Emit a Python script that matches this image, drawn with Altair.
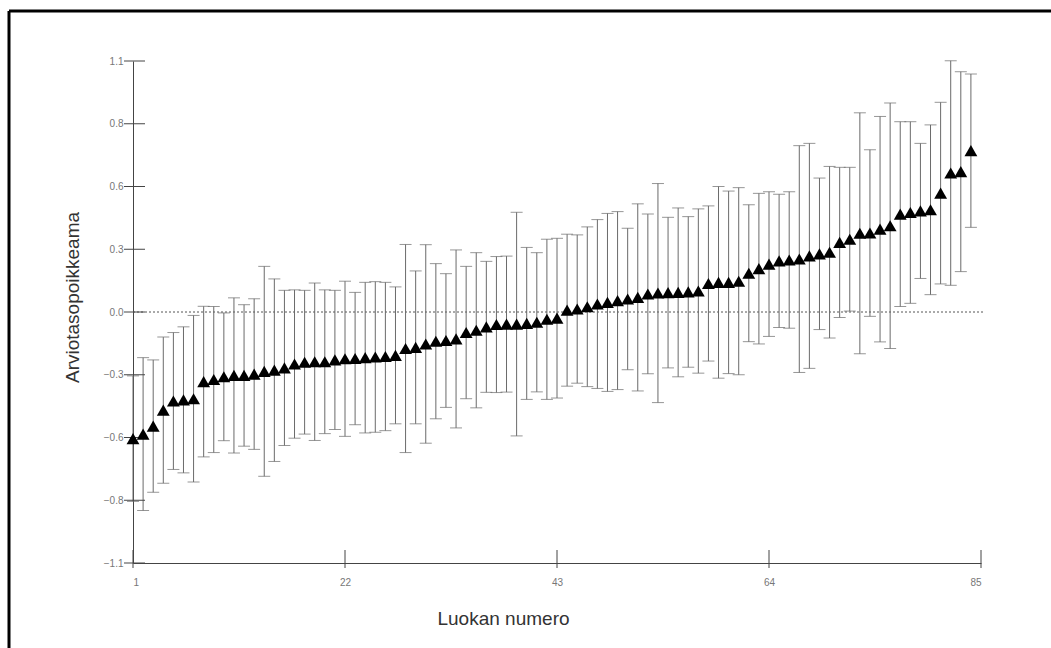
import altair as alt
import pandas as pd

# class numbers (1..84 drawn, axis runs to 85)
classes = list(range(1, 85))

# estimated class means (triangles)
means = [
    -0.555, -0.535, -0.500, -0.430, -0.390, -0.385, -0.380, -0.305, -0.296, -0.284,
    -0.278, -0.278, -0.272, -0.260, -0.255, -0.245, -0.228, -0.220, -0.218, -0.218,
    -0.210, -0.205, -0.204, -0.200, -0.197, -0.195, -0.190, -0.160, -0.155, -0.140,
    -0.128, -0.125, -0.118, -0.090, -0.080, -0.065, -0.055, -0.053, -0.053, -0.050,
    -0.045, -0.032, -0.027, 0.008, 0.013, 0.023, 0.035, 0.042, 0.050, 0.057,
    0.064, 0.079, 0.083, 0.085, 0.086, 0.088, 0.092, 0.125, 0.130, 0.130,
    0.135, 0.170, 0.190, 0.210, 0.224, 0.228, 0.232, 0.246, 0.255, 0.262,
    0.305, 0.319, 0.345, 0.346, 0.363, 0.378, 0.429, 0.436, 0.443, 0.448,
    0.521, 0.609, 0.615, 0.707,
]

# estimated half-widths of the error bars
errors = [
    0.275, 0.335, 0.290, 0.320, 0.300, 0.320, 0.365, 0.330, 0.320, 0.280,
    0.340, 0.310, 0.330, 0.460, 0.400, 0.340, 0.325, 0.315, 0.345, 0.315,
    0.305, 0.340, 0.290, 0.330, 0.330, 0.325, 0.300, 0.456, 0.335, 0.435,
    0.340, 0.293, 0.390, 0.290, 0.340, 0.287, 0.298, 0.298, 0.490, 0.333,
    0.305, 0.351, 0.350, 0.333, 0.325, 0.350, 0.370, 0.390, 0.390, 0.310,
    0.410, 0.350, 0.480, 0.330, 0.370, 0.330, 0.360, 0.340, 0.420, 0.400,
    0.410, 0.300, 0.330, 0.317, 0.292, 0.299, 0.497, 0.493, 0.332, 0.376,
    0.329, 0.315, 0.528, 0.365, 0.494, 0.538, 0.405, 0.398, 0.296, 0.372,
    0.398, 0.492, 0.438, 0.336,
]

y_ticks = [-1.1, -0.825, -0.55, -0.275, 0.0, 0.275, 0.55, 0.825, 1.1]
x_ticks = [1, 22, 43, 64, 85]

df = pd.DataFrame({"luokka": classes, "ka": means, "virhe": errors})
df["ala"] = df["ka"] - df["virhe"]
df["yla"] = df["ka"] + df["virhe"]

FONT = "Liberation Sans"
AXIS_COLOR = "#444444"

xscale = alt.Scale(domain=[1, 85], nice=False, zero=False)
yscale = alt.Scale(domain=[-1.1, 1.1], nice=False, zero=False)

xaxis = alt.Axis(
    values=x_ticks, title="Luokan numero", grid=False, ticks=False,
    labelPadding=14, titleX=370, titleY=55, titleBaseline="middle",
    titleFontSize=19, titleFontWeight="normal", titleColor="#333333",
    labelFontSize=10, labelColor="#777777", domainColor=AXIS_COLOR,
    labelFont=FONT, titleFont=FONT,
)
yaxis = alt.Axis(
    values=y_ticks, format=".1f", title="Arviotasopoikkeama", grid=False,
    ticks=False, labelPadding=10, titleX=-61, titleY=236,
    titleBaseline="middle", titleAlign="center", titleAngle=270,
    titleFontSize=19, titleFontWeight="normal", titleColor="#333333",
    labelFontSize=10, labelColor="#777777", domainColor=AXIS_COLOR,
    labelFont=FONT, titleFont=FONT,
)

base = alt.Chart(df)

bars = base.mark_rule(color="#6a6a6a", strokeWidth=1).encode(
    x=alt.X("luokka:Q", scale=xscale, axis=xaxis),
    y=alt.Y("ala:Q", scale=yscale, axis=yaxis),
    y2="yla:Q",
)
caps_low = base.mark_tick(color="#6a6a6a", orient="horizontal", size=12, thickness=1).encode(
    x=alt.X("luokka:Q", scale=xscale), y=alt.Y("ala:Q", scale=yscale)
)
caps_high = base.mark_tick(color="#6a6a6a", orient="horizontal", size=12, thickness=1).encode(
    x=alt.X("luokka:Q", scale=xscale), y=alt.Y("yla:Q", scale=yscale)
)
zero = alt.Chart(pd.DataFrame({"y": [0.0]})).mark_rule(
    color="#555555", strokeDash=[2, 2], strokeWidth=1
).encode(y=alt.Y("y:Q", scale=yscale), x=alt.value(0), x2=alt.value(852))

points = base.mark_point(
    shape="triangle-up", filled=True, color="black", size=165, opacity=1
).encode(x=alt.X("luokka:Q", scale=xscale), y=alt.Y("ka:Q", scale=yscale))

# tick marks crossing the axis lines, as in the reference
xtick_marks = alt.Chart(pd.DataFrame({"t": x_ticks})).mark_rule(
    color=AXIS_COLOR, strokeWidth=1
).encode(x=alt.X("t:Q", scale=xscale), y=alt.value(489), y2=alt.value(507))
ytick_marks = alt.Chart(pd.DataFrame({"t": y_ticks})).mark_rule(
    color=AXIS_COLOR, strokeWidth=1
).encode(y=alt.Y("t:Q", scale=yscale), x=alt.value(-9), x2=alt.value(12))

frame_top = alt.Chart(pd.DataFrame({"a": [0]})).mark_rule(color="black", strokeWidth=3).encode(
    x=alt.value(-124), x2=alt.value(920), y=alt.value(-50)
)
frame_left = alt.Chart(pd.DataFrame({"a": [0]})).mark_rule(color="black", strokeWidth=3).encode(
    x=alt.value(-124), y=alt.value(-50), y2=alt.value(600)
)

chart = (
    alt.layer(zero, bars, caps_low, caps_high, xtick_marks, ytick_marks,
              points, frame_top, frame_left)
    .properties(
        width=848, height=502,
        autosize=alt.AutoSizeParams(type="none"),
        padding={"left": 133, "top": 61, "right": 70, "bottom": 85},
        background="white",
    )
    .configure_view(stroke=None)
)

chart.save("out.html", embed_options={"renderer": "svg", "actions": False})
